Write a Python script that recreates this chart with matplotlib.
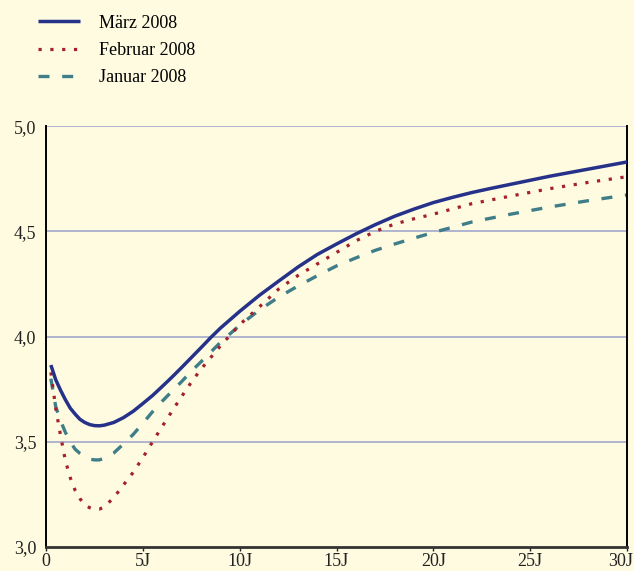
import matplotlib
matplotlib.use("Agg")
from matplotlib import pyplot
from matplotlib import transforms

# Laufzeit in Jahren
laufzeit_mrz = [0.25, 0.5, 0.75, 1.0, 1.25, 1.5, 1.75, 2.0, 2.25, 2.5, 2.75, 3.0, 3.5, 4.0, 4.5,
                5.0, 5.5, 6.0, 6.5, 7.0, 7.5, 8.0, 8.5, 9.0, 10.0, 11.0, 12.0, 13.0, 14.0, 15.0,
                16.0, 17.0, 18.0, 19.0, 20.0, 21.0, 22.0, 23.0, 24.0, 25.0, 26.0, 27.0, 28.0,
                29.0, 30.0]
maerz = [3.865, 3.795, 3.745, 3.70, 3.66, 3.632, 3.607, 3.592, 3.582, 3.577, 3.576, 3.579,
         3.592, 3.615, 3.645, 3.682, 3.72, 3.763, 3.807, 3.853, 3.90, 3.947, 3.995, 4.04, 4.12,
         4.195, 4.263, 4.33, 4.39, 4.44, 4.488, 4.532, 4.572, 4.606, 4.637, 4.662, 4.685,
         4.705, 4.724, 4.743, 4.762, 4.779, 4.796, 4.813, 4.83]

laufzeit_feb = [0.25, 0.5, 0.75, 1.0, 1.25, 1.5, 1.75, 2.0, 2.25, 2.5, 2.75, 3.0, 3.5, 4.0, 4.5,
                5.0, 5.5, 6.0, 6.5, 7.0, 7.5, 8.0, 8.5, 9.0, 10.0, 11.0, 12.0, 13.0, 14.0,
                15.0, 16.0, 17.0, 18.0, 19.0, 20.0, 22.0, 24.0, 26.0, 28.0, 30.0]
februar = [3.83, 3.66, 3.53, 3.41, 3.33, 3.27, 3.23, 3.20, 3.187, 3.18, 3.18, 3.19, 3.235,
           3.295, 3.355, 3.425, 3.50, 3.573, 3.645, 3.715, 3.783, 3.845, 3.90, 3.955, 4.057,
           4.14, 4.225, 4.29, 4.345, 4.40, 4.455, 4.50, 4.535, 4.56, 4.582, 4.632, 4.668,
           4.703, 4.733, 4.76]

laufzeit_jan = [0.25, 0.5, 0.75, 1.0, 1.25, 1.5, 1.75, 2.0, 2.25, 2.5, 2.75, 3.0, 3.5, 4.0, 4.5,
                5.0, 5.5, 6.0, 6.5, 7.0, 7.5, 8.0, 9.0, 10.0, 11.0, 12.0, 13.0, 14.0, 15.0,
                16.0, 17.0, 18.0, 19.0, 20.0, 22.0, 24.0, 26.0, 28.0, 30.0]
januar = [3.80, 3.667, 3.60, 3.545, 3.50, 3.465, 3.445, 3.43, 3.418, 3.414, 3.414, 3.422,
          3.447, 3.49, 3.535, 3.588, 3.643, 3.693, 3.74, 3.786, 3.835, 3.88, 3.972, 4.054,
          4.125, 4.187, 4.24, 4.289, 4.336, 4.374, 4.41, 4.44, 4.468, 4.495, 4.545, 4.582,
          4.616, 4.646, 4.673]

x_ticks = [0, 5, 10, 15, 20, 25, 30]
x_labels = ['0', '5J', '10J', '15J', '20J', '25J', '30J']
y_ticks = [3.0, 3.5, 4.0, 4.5, 5.0]
y_labels = ['3,0', '3,5', '4,0', '4,5', '5,0']

bg = '#fefbe0'
pyplot.rcParams['font.family'] = 'Liberation Serif'

fig = pyplot.figure(figsize=(6.34, 5.71), dpi=100, facecolor=bg)
ax = fig.add_axes([0.0726, 0.042, 0.9164, 0.737], facecolor=bg)

for y in y_ticks[1:]:
    ax.axhline(y, color='#9aa0cc', lw=1.1, zorder=1)

ax.plot(laufzeit_mrz, maerz, color='#26318a', lw=2.5, solid_capstyle='butt',
        solid_joinstyle='round', label='März 2008', zorder=4)
ax.plot(laufzeit_feb, februar, color='#a3202c', lw=2.3, linestyle=(0, (1, 2.7)),
        dash_capstyle='butt', label='Februar 2008', zorder=3)
ax.plot(laufzeit_jan, januar, color='#3f7e89', lw=2.4, linestyle=(0, (3.3, 3.8)),
        dash_capstyle='butt', label='Januar 2008', zorder=2)

ax.set_xlim(0, 30)
ax.set_ylim(3.0, 5.0)
ax.set_xticks(x_ticks)
ax.set_xticklabels(x_labels)
ax.set_yticks(y_ticks)
ax.set_yticklabels(y_labels)
ax.tick_params(axis='x', direction='out', length=3, width=1, pad=1, labelsize=13, colors='#222222')
ax.tick_params(axis='y', length=0, pad=7, labelsize=13, colors='#222222')

# letzte Beschriftung nach links schieben, damit sie nicht abgeschnitten wird
last = ax.get_xticklabels()[-1]
last.set_horizontalalignment('right')
last.set_transform(last.get_transform() + transforms.ScaledTranslation(6 / 100, 0, fig.dpi_scale_trans))

ax.spines['top'].set_visible(False)
ax.spines['left'].set_color('black')
ax.spines['left'].set_linewidth(1.4)
ax.spines['right'].set_color('black')
ax.spines['right'].set_linewidth(1.4)
ax.spines['bottom'].set_color('#333333')
ax.spines['bottom'].set_linewidth(2)

fig.legend(loc='upper left', bbox_to_anchor=(0.035, 1.003), frameon=False, fontsize=13,
           handlelength=2.3, handletextpad=1.05, labelspacing=0.58)

pyplot.savefig("out.png", dpi=100, facecolor=bg)
